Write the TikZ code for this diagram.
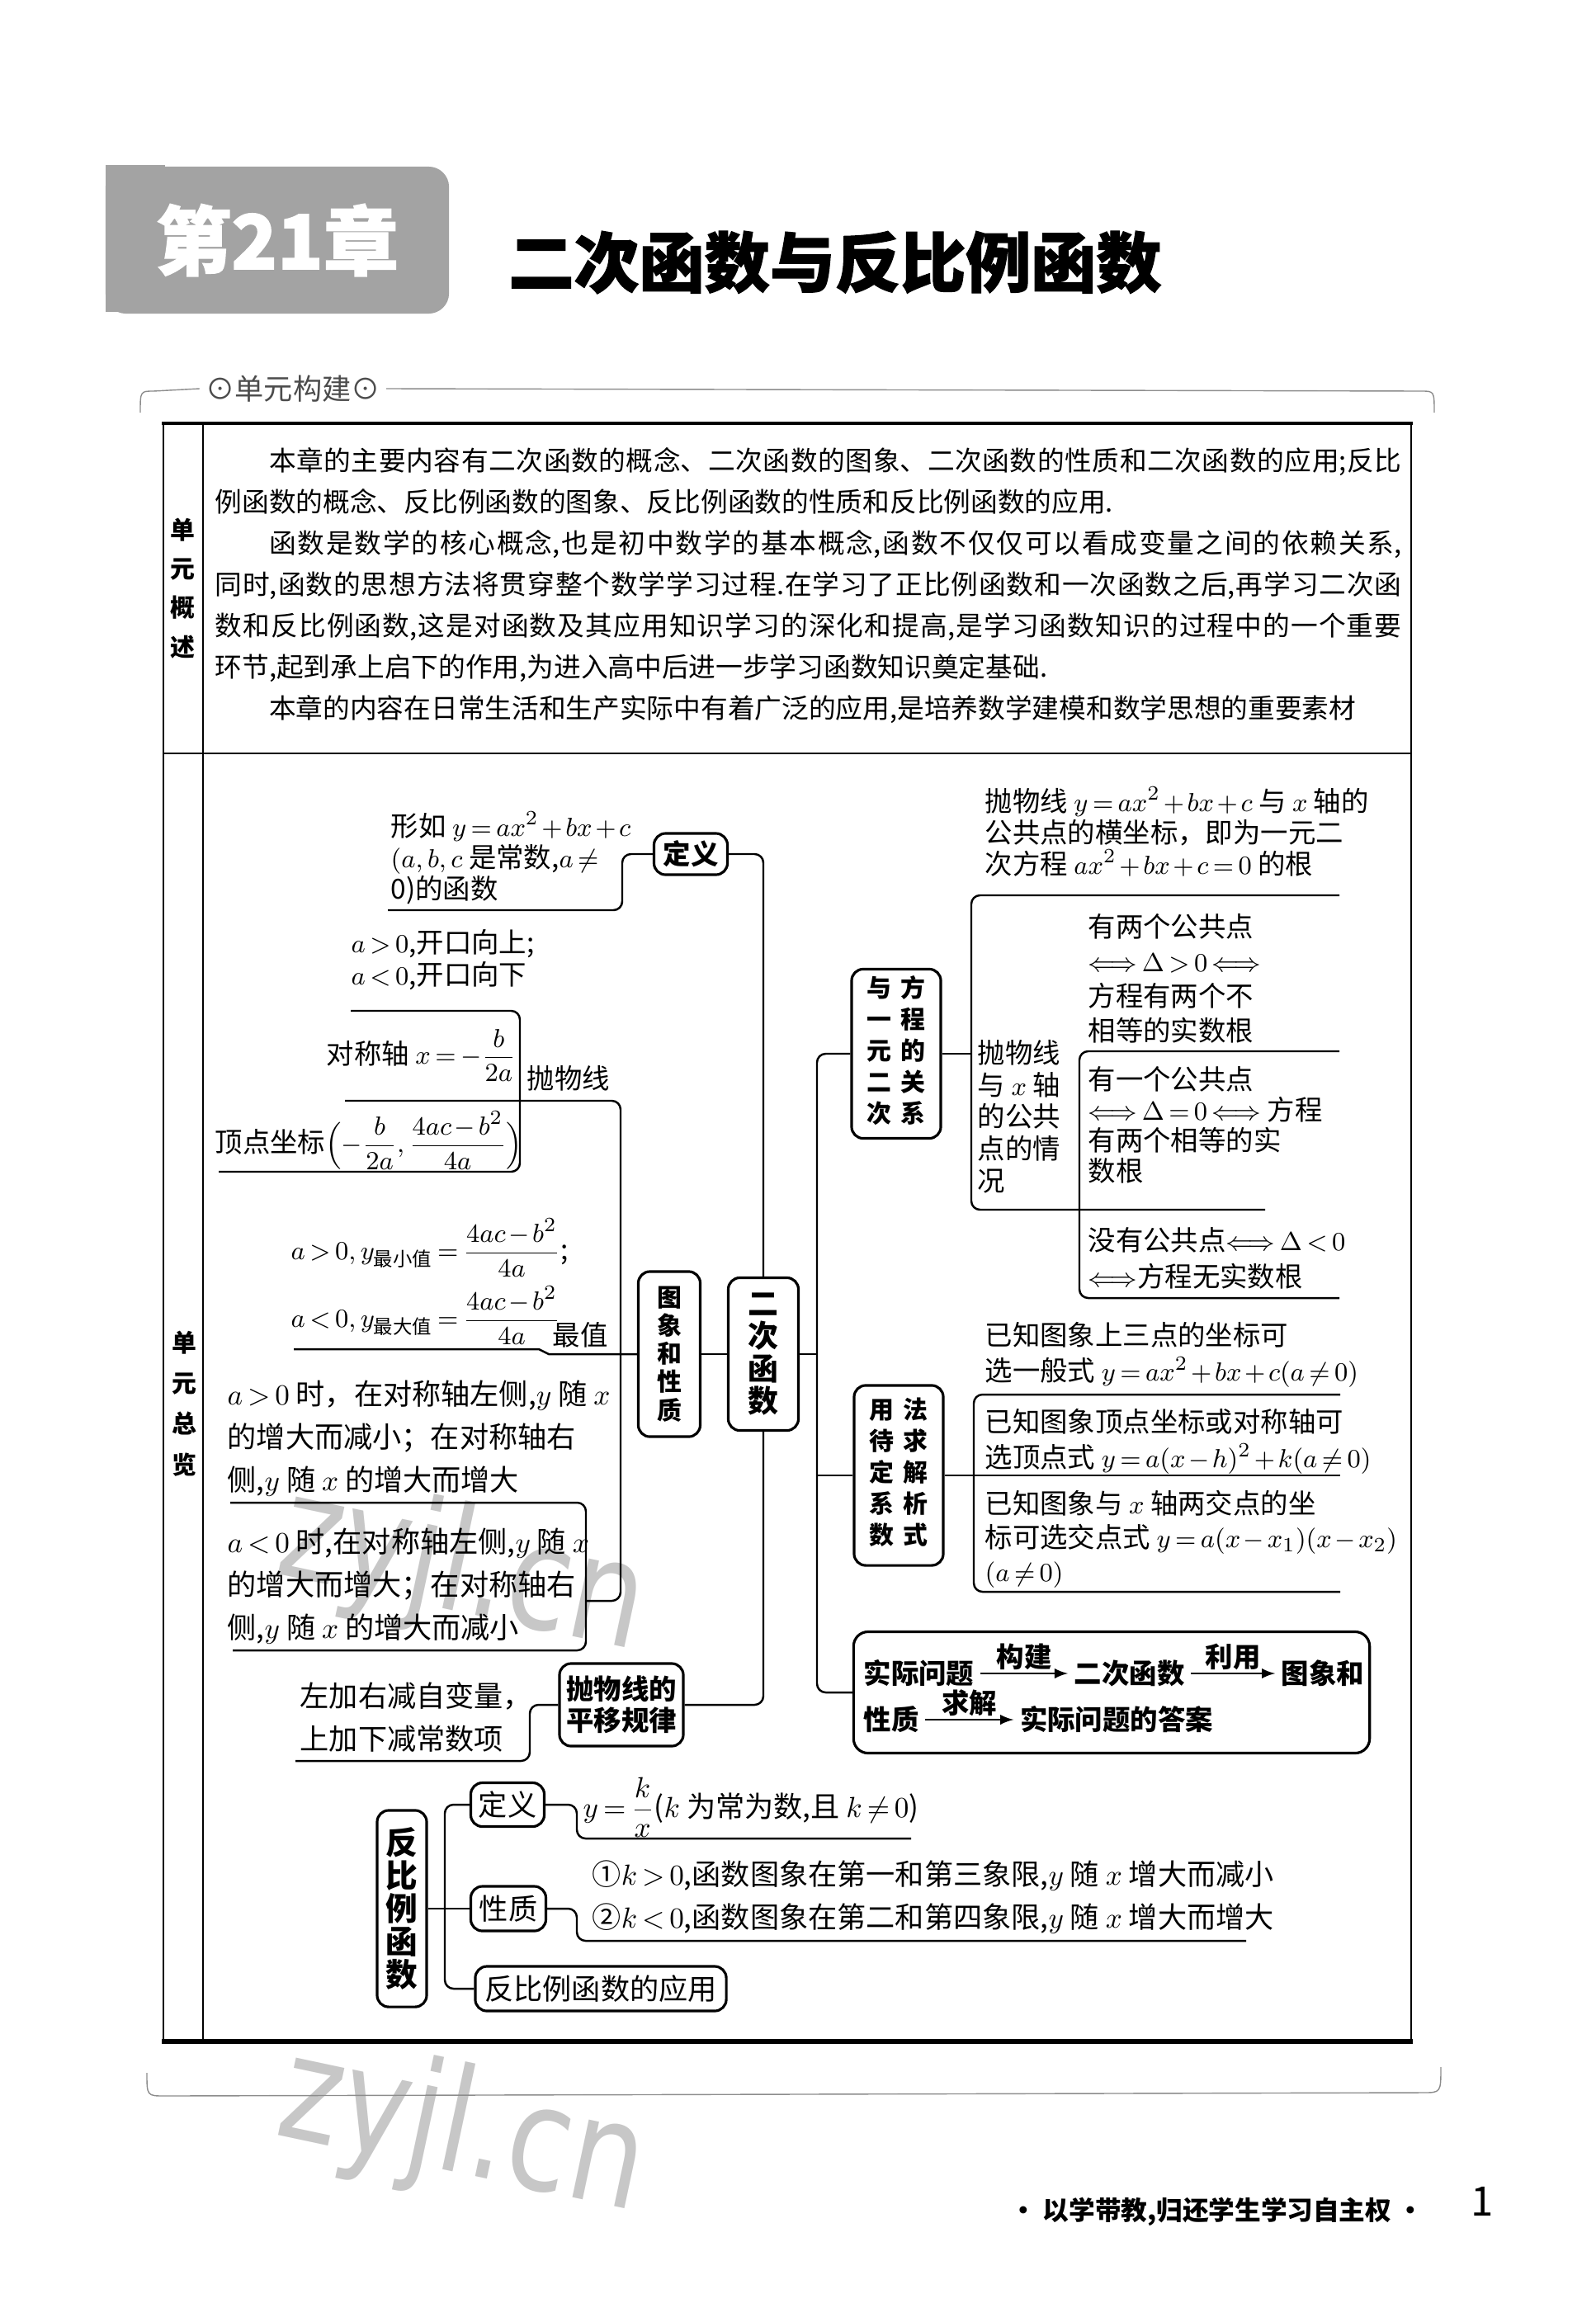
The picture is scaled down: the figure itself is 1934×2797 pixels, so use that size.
\documentclass[tikz,border=0pt]{standalone}
\usepackage{amsmath}
\usepackage[no-math]{fontspec}
\usetikzlibrary{arrows,positioning}
\setmainfont{Noto Sans CJK SC}
\newfontfamily\heavyfont{Noto Sans CJK SC}[BoldFeatures={FakeBold=1.5}]
\newfontfamily\wmfont{DejaVu Sans}
\XeTeXlinebreaklocale "zh"
\XeTeXlinebreakskip=0pt plus 1pt
\definecolor{chapgray}{gray}{0.64}
\tikzset{
    conn/.style={line width=0.7pt, rounded corners=3pt},
    keybox/.style={draw, line width=0.9pt, rounded corners=4pt, inner sep=0pt, font=\bfseries\fontsize{9.5}{11}\selectfont},
    softbox/.style={draw, line width=0.9pt, rounded corners=4pt, inner sep=0pt, font=\fontsize{10}{12}\selectfont},
    body/.style={align=left, inner sep=0pt, anchor=west, font=\fontsize{9.5}{#1}\selectfont},
    body/.default=12pt,
    word/.style={inner sep=0pt, anchor=west, font=\bfseries\fontsize{9.5}{11}\selectfont},
    tag/.style={inner sep=1pt, above, font=\bfseries\fontsize{9.5}{11}\selectfont},
    pageline/.style={line width=0.6pt},
    sidelabel/.style={align=center, inner sep=0pt, font=\bfseries\fontsize{8.5}{#1}\selectfont},
    watermark/.style={inner sep=0pt, rotate=-12, xscale=0.8, text=black!22, font=\wmfont\fontsize{50}{50}\selectfont}
}

\begin{document}
\begin{tikzpicture}[x=0.01cm, y=-0.01cm, >=latex]
\medmuskip=2mu \thickmuskip=3mu
\useasboundingbox (0,0) rectangle (1934,2797);

\node[watermark] (wm1) at (560,1905) {zyjl.cn};
\node[watermark] (wm2) at (560,2585) {zyjl.cn};

\fill[chapgray] (128,200) rectangle (200,378);
\node[fill=chapgray, rounded corners=7pt, minimum width=4.16cm, minimum height=1.78cm, inner sep=0pt,
      text=white, font=\heavyfont\bfseries\fontsize{26}{30}\selectfont] (chap) at (336,291) {第21章};
\node[font=\heavyfont\bfseries\fontsize{22.5}{26}\selectfont] (title) at (1012,318) {二次函数与反比例函数};

\node[text=black!70, inner sep=2pt, font=\fontsize{10}{12}\selectfont] (unit) at (355,471) {⊙单元构建⊙};
\draw[black!45, line width=0.4pt] (unit.east) -- (1722,474) .. controls (1738,474) .. (1738,500);
\draw[black!45, line width=0.4pt] (unit.west) -- (186,474) .. controls (170,474) .. (170,500);
\draw[black!45, line width=0.4pt] (178,2512) .. controls (178,2540) .. (200,2540) -- (1724,2536) .. controls (1746,2536) .. (1746,2505);

\draw[line width=1.2pt] (196,513) -- (1712,513);
\draw[pageline] (198,513) -- (198,2474);
\draw[pageline] (1710,513) -- (1710,2474);
\draw[pageline] (246,513) -- (246,2474);
\draw[pageline] (198,913) -- (1710,913);
\draw[line width=1.8pt] (196,2474) -- (1712,2474);

\node[sidelabel=13.4pt] (ovlab) at (221,713) {单\\元\\概\\述};
\node[sidelabel=14pt] (sumlab) at (223,1701) {单\\元\\总\\览};

\node[anchor=north west, inner sep=0pt, text width=14.37cm, align=justify, font=\fontsize{9.3}{14.2}\selectfont] (ov) at (260,542)
{\hspace*{2em}本章的主要内容有二次函数的概念、二次函数的图象、二次函数的性质和二次函数的应用;反比\linebreak 例函数的概念、反比例函数的图象、反比例函数的性质和反比例函数的应用.\par
\hspace*{2em}函数是数学的核心概念,也是初中数学的基本概念,函数不仅仅可以看成变量之间的依赖关系,\linebreak 同时,函数的思想方法将贯穿整个数学学习过程.在学习了正比例函数和一次函数之后,再学习二次函\linebreak 数和反比例函数,这是对函数及其应用知识学习的深化和提高,是学习函数知识的过程中的一个重要\linebreak 环节,起到承上启下的作用,为进入高中后进一步学习函数知识奠定基础.\par
\hspace*{2em}本章的内容在日常生活和生产实际中有着广泛的应用,是培养数学建模和数学思想的重要素材};

\node[keybox, align=center, font=\bfseries\fontsize{10.5}{11.2}\selectfont, minimum width=0.85cm, minimum height=1.85cm] (quad) at (925,1641) {二\\次\\函\\数};
\node[keybox, align=center, font=\bfseries\fontsize{8.5}{9.7}\selectfont, minimum width=0.75cm, minimum height=2cm] (prop) at (811,1641) {图\\象\\和\\性\\质};
\node[keybox, minimum width=0.89cm, minimum height=0.5cm] (defq) at (837,1035) {定义};
\node[keybox, align=center, font=\bfseries\fontsize{9.5}{10.8}\selectfont, minimum width=1.5cm, minimum height=1cm] (shift) at (753,2066) {抛物线的\\平移规律};
\node[keybox, font=\bfseries\fontsize{8.5}{10.8}\selectfont, minimum width=1.08cm, minimum height=2.05cm] (eqrel) at (1086,1277)
    {\begin{tabular}{@{}c@{\hspace{3pt}}c@{}}与&方\\一&程\\元&的\\二&关\\次&系\end{tabular}};
\node[keybox, font=\bfseries\fontsize{8.5}{10.8}\selectfont, minimum width=1.08cm, minimum height=2.18cm] (undet) at (1089,1788)
    {\begin{tabular}{@{}c@{\hspace{3pt}}c@{}}用&法\\待&求\\定&解\\系&析\\数&式\end{tabular}};
\node[draw, line width=0.9pt, rounded corners=5pt, minimum width=6.25cm, minimum height=1.47cm] (app) at (1347,2051) {};

\node[body=10.8pt] (deftxt) at (473,1040) {形如 $y=ax^2+bx+c$\\$(a,b,c$ 是常数,$a\neq$\\0)的函数};
\node[body=11pt] (opentxt) at (425,1163) {$a>0$,开口向上;\\$a<0$,开口向下};
\node[body, anchor=east] (axistxt) at (626,1279) {对称轴 $x=-\dfrac{b}{2a}$};
\node[body] (parab) at (638,1307) {抛物线};
\node[body] (vertxt) at (260,1382) {顶点坐标$\Bigl(-\dfrac{b}{2a},\dfrac{4ac-b^2}{4a}\Bigr)$};
\node[body] (mintxt) at (352,1512) {$a>0,y_{\text{最小值}}=\dfrac{4ac-b^2}{4a}$;};
\node[body] (maxtxt) at (352,1594) {$a<0,y_{\text{最大值}}=\dfrac{4ac-b^2}{4a}$};
\node[body, anchor=center] (extlbl) at (703,1618) {最值};
\node[body=14.8pt, font=\fontsize{10}{14.8}\selectfont] (incrtxt) at (275,1743) {$a>0$ 时，在对称轴左侧,$y$ 随 $x$\\的增大而减小；在对称轴右\\侧,$y$ 随 $x$ 的增大而增大};
\node[body=14.8pt, font=\fontsize{10}{14.8}\selectfont] (decrtxt) at (275,1922) {$a<0$ 时,在对称轴左侧,$y$ 随 $x$\\的增大而增大；在对称轴右\\侧,$y$ 随 $x$ 的增大而减小};
\node[body=14.8pt, font=\fontsize{10}{14.8}\selectfont] (shtxt) at (363,2081) {左加右减自变量，\\上加下减常数项};

\node[body=10.8pt] (roottxt) at (1193,1008) {抛物线 $y=ax^2+bx+c$ 与 $x$ 轴的\\公共点的横坐标，即为一元二\\次方程 $ax^2+bx+c=0$ 的根};
\node[body=11pt] (inttxt) at (1184,1353) {抛物线\\与 $x$ 轴\\的公共\\点的情\\况};
\node[body=12pt] (twotxt) at (1318,1186) {有两个公共点\\$\Longleftrightarrow\Delta>0\Longleftrightarrow$\\方程有两个不\\相等的实数根};
\node[body=10.5pt] (onetxt) at (1318,1363) {有一个公共点\\$\Longleftrightarrow\Delta=0\Longleftrightarrow$ 方程\\有两个相等的实\\数根};
\node[body=12.5pt] (nonetxt) at (1318,1525) {没有公共点$\Longleftrightarrow\Delta<0$\\$\Longleftrightarrow$方程无实数根};
\node[body=12.2pt] (gentxt) at (1193,1642) {已知图象上三点的坐标可\\选一般式 $y=ax^2+bx+c(a\neq0)$};
\node[body=12.2pt] (vtxtxt) at (1193,1747) {已知图象顶点坐标或对称轴可\\选顶点式 $y=a(x-h)^2+k(a\neq0)$};
\node[body=11.6pt] (crosstxt) at (1193,1865) {已知图象与 $x$ 轴两交点的坐\\标可选交点式 $y=a(x-x_1)(x-x_2)$\\$(a\neq0)$};

\node[word] (w1) at (1046,2028) {实际问题};
\node[word, right=1.2cm of w1] (w2) {二次函数};
\node[word, right=1.16cm of w2] (w3) {图象和};
\node[word] (w4) at (1046,2084) {性质};
\node[word, right=1.21cm of w4] (w5) {实际问题的答案};
\draw[->, line width=0.6pt, shorten <=2pt, shorten >=2pt] (w1.east) -- node[tag] {构建} (w2.west);
\draw[->, line width=0.6pt, shorten <=2pt, shorten >=2pt] (w2.east) -- node[tag] {利用} (w3.west);
\draw[->, line width=0.6pt, shorten <=2pt, shorten >=2pt] (w4.east) -- node[tag] {求解} (w5.west);

\node[keybox, align=center, font=\bfseries\fontsize{11}{11.4}\selectfont, minimum width=0.6cm, minimum height=2.38cm] (inv) at (487,2313) {反\\比\\例\\函\\数};
\node[softbox, minimum width=0.89cm, minimum height=0.53cm] (invdef) at (615,2187) {定义};
\node[softbox, minimum width=0.91cm, minimum height=0.54cm] (invprop) at (616,2313) {性质};
\node[softbox, minimum width=3.04cm, minimum height=0.54cm] (invapp) at (728,2410) {反比例函数的应用};
\node[body, font=\fontsize{10}{12}\selectfont] (idtxt) at (706,2190) {$y=\dfrac{k}{x}$($k$ 为常为数,且 $k\neq0$)};
\node[body=14.8pt, font=\fontsize{10}{14.8}\selectfont] (iptxt) at (717,2299) {①$k>0$,函数图象在第一和第三象限,$y$ 随 $x$ 增大而减小\\②$k<0$,函数图象在第二和第四象限,$y$ 随 $x$ 增大而增大};

\coordinate (defc) at (754,1103);
\coordinate (defl) at (470,1103);
\coordinate (pbt) at (425,1225);
\coordinate (pbc) at (630,1420);
\coordinate (pbl) at (265,1420);
\coordinate (pmid) at (418,1334);
\coordinate (ltrunk) at (752,1940);
\coordinate (lstub) at (710,1940);
\coordinate (ext1) at (665,1641);
\coordinate (ext2) at (653,1635);
\coordinate (extl) at (356,1635);
\coordinate (ngt) at (279,1821);
\coordinate (ngc) at (710,2000);
\coordinate (ngl) at (282,2000);
\coordinate (shc) at (642,2134);
\coordinate (shl) at (358,2134);
\coordinate (rtrunk) at (990,1641);
\coordinate (rbot) at (990,1900);
\coordinate (eqtr) at (1623,1085);
\coordinate (eqtl) at (1177,1085);
\coordinate (eqbl) at (1177,1466);
\coordinate (eqbr) at (1533,1466);
\coordinate (intr) at (1623,1274);
\coordinate (intl) at (1308,1274);
\coordinate (inbl) at (1308,1573);
\coordinate (inbr) at (1623,1573);
\coordinate (udtr) at (1624,1690);
\coordinate (udtl) at (1180,1690);
\coordinate (udbl) at (1180,1929);
\coordinate (udbr) at (1624,1929);
\coordinate (itrunk) at (539,2300);
\coordinate (idc) at (699,2228);
\coordinate (idr) at (1104,2228);
\coordinate (ipc) at (699,2352);
\coordinate (ipr) at (1510,2352);

\draw[conn] (defq.east) -| (quad.north);
\draw[conn] (defq.west) -| (defc) -- (defl);
\draw[conn] (pbt) -| (pbc) -- (pbl);
\draw[conn] (pmid) -| (ltrunk) -- (lstub);
\draw[conn, sharp corners] (prop.west) -- (ext1) -- (ext2) -- (extl);
\draw[conn] (ngt) -| (ngc) -- (ngl);
\draw[conn] (quad.west) -- (prop.east);
\draw[conn] (shift.east) -| (quad.south);
\draw[conn] (shift.west) -| (shc) -- (shl);
\draw[conn] (quad.east) -- (rtrunk);
\draw[conn] (eqrel.west) -| (rbot) |- (app.west);
\draw[conn] (undet.west) -- (undet.west -| rtrunk);
\draw[conn] (eqtr) -- (eqtl) -- (eqbl) -- (eqbr);
\draw[conn] (eqrel.east) -- (eqrel.east -| eqtl);
\draw[conn] (intr) -- (intl) -- (inbl) -- (inbr);
\draw[conn] (udtr) -- (udtl) -- (udbl) -- (udbr);
\draw[conn] (undet.east) -- (undet.east -| udtr);
\draw[conn] (invdef.west) -| (itrunk) |- (invapp.west);
\draw[conn] (inv.east) -- (invprop.west);
\draw[conn] (invdef.east) -| (idc) -- (idr);
\draw[conn] (invprop.east) -| (ipc) -- (ipr);

\node[font=\bfseries\fontsize{9}{11}\selectfont] (motto) at (1475,2680) {· 以学带教,归还学生学习自主权 ·};
\node[font=\fontsize{14}{16}\selectfont] (pnum) at (1796,2668) {1};
\end{tikzpicture}
\end{document}
